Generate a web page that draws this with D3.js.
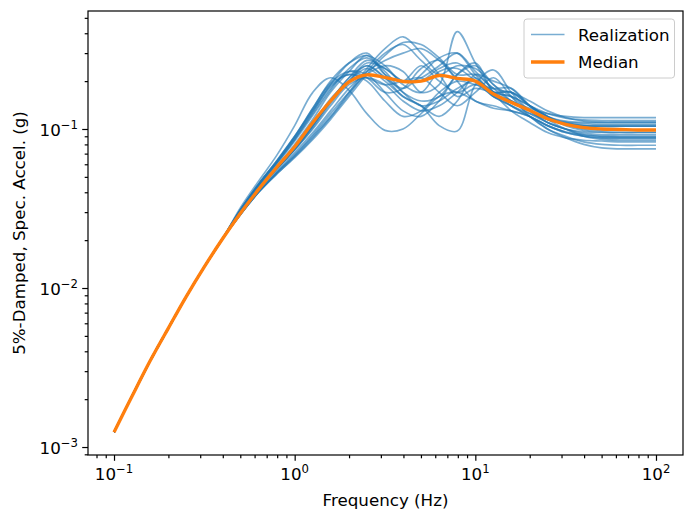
<!DOCTYPE html>
<html>
<head>
<meta charset="utf-8">
<script src="https://cdn.jsdelivr.net/npm/d3@7"></script>
<style>
body { margin: 0; background: #fff; }
text { font-family: "DejaVu Sans", sans-serif; }
</style>
</head>
<body>
<svg id="chart" width="695" height="523"></svg>
<script>
// frequencies (Hz), 10 per decade
var freq = [0.1, 0.126, 0.158, 0.2, 0.251, 0.316, 0.398, 0.501, 0.631, 0.794,
    1, 1.26, 1.58, 2, 2.51, 3.16, 3.98, 5.01, 6.31, 7.94,
    10, 12.6, 15.8, 20, 25.1, 31.6, 39.8, 50.1, 63.1, 79.4, 100]

// all realizations share the low frequency part (0.1 - 0.4 Hz)
var lowBand = [0.00124, 0.002094, 0.003459, 0.005598, 0.008831, 0.01358, 0.02032]

// realizations from 0.5 Hz on (g)
var realizations = [
    [.032, .047, .068, .105, .17, .21, .175, .125, .098, .10, .125, .16, .17, .15, .135, .13, .12, .105, .095, .09, .088, .087, .087, .087],
    [.031, .045, .063, .09, .135, .2, .26, .29, .25, .19, .17, .23, .24, .2, .16, .14, .125, .115, .11, .108, .107, .107, .107, .107],
    [.031, .044, .061, .086, .128, .19, .26, .3, .22, .17, .15, .16, .22, .25, .19, .16, .13, .115, .108, .105, .104, .104, .104, .104],
    [.030, .042, .056, .075, .105, .15, .21, .27, .24, .2, .21, .25, .3, .23, .18, .15, .135, .125, .12, .118, .118, .118, .118, .118],
    [.030, .042, .056, .074, .102, .145, .2, .25, .21, .16, .14, .12, .15, .22, .2, .18, .14, .12, .105, .098, .096, .095, .095, .095],
    [.029, .040, .053, .068, .09, .12, .17, .24, .32, .38, .3, .22, .16, .18, .17, .17, .14, .12, .11, .105, .104, .104, .104, .104],
    [.029, .040, .053, .069, .092, .125, .17, .22, .25, .23, .17, .19, .41, .26, .17, .13, .11, .095, .088, .085, .084, .083, .083, .083],
    [.029, .040, .052, .067, .088, .118, .165, .23, .3, .34, .27, .22, .25, .24, .19, .15, .13, .115, .108, .105, .105, .105, .105, .105],
    [.030, .042, .056, .075, .105, .15, .21, .25, .21, .18, .22, .28, .3, .22, .17, .16, .14, .12, .112, .11, .11, .11, .11, .11],
    [.031, .045, .063, .09, .135, .195, .23, .21, .17, .18, .24, .27, .2, .15, .14, .13, .12, .105, .095, .09, .088, .088, .088, .088],
    [.030, .042, .056, .074, .1, .14, .19, .21, .19, .15, .13, .14, .17, .21, .16, .15, .13, .11, .1, .094, .092, .092, .092, .092],
    [.030, .043, .058, .08, .115, .17, .23, .29, .22, .2, .25, .2, .17, .19, .16, .14, .12, .105, .096, .092, .09, .09, .09, .09],
    [.031, .044, .061, .086, .125, .18, .23, .22, .17, .13, .12, .15, .22, .26, .17, .15, .125, .11, .1, .096, .095, .095, .095, .095],
    [.030, .042, .057, .077, .108, .155, .2, .24, .2, .16, .14, .105, .097, .19, .235, .17, .13, .11, .1, .092, .09, .089, .089, .089],
    [.029, .041, .054, .071, .095, .13, .18, .23, .27, .3, .32, .27, .21, .2, .17, .16, .14, .125, .117, .114, .113, .113, .113, .113],
    [.031, .045, .062, .088, .13, .185, .22, .21, .19, .2, .21, .17, .14, .17, .21, .16, .12, .1, .09, .083, .08, .079, .079, .079],
    [.030, .042, .056, .075, .105, .148, .2, .26, .24, .2, .2, .24, .26, .21, .17, .14, .12, .1, .088, .08, .076, .075, .075, .075],
    [.029, .040, .052, .066, .086, .115, .16, .22, .29, .35, .34, .28, .22, .22, .18, .17, .15, .13, .118, .112, .11, .11, .11, .11],
    [.031, .044, .06, .084, .122, .175, .24, .28, .23, .17, .14, .15, .18, .2, .17, .17, .14, .12, .107, .1, .098, .098, .098, .098],
    [.031, .045, .062, .089, .132, .19, .22, .2, .15, .12, .13, .17, .2, .19, .18, .18, .14, .115, .1, .09, .086, .085, .085, .085]
]

var median = [0.00124, 0.002094, 0.003459, 0.005598, 0.008831, 0.01358, 0.02032, 0.0295, 0.0417, 0.0573,
    0.0773, 0.11, 0.15, 0.198, 0.219, 0.211, 0.199, 0.2, 0.217, 0.208,
    0.2, 0.166, 0.147, 0.131, 0.116, 0.107, 0.102, 0.1, 0.0993, 0.0986, 0.0986]

var xTicks = [0.1, 1, 10, 100]
var yTicks = [0.001, 0.01, 0.1]
var expo = { 0.1: "\u22121", 1: "0", 10: "1", 100: "2", 0.001: "\u22123", 0.01: "\u22122" }

var svg = d3.select("#chart")
var axLeft = 88, axRight = 683, axTop = 11, axBottom = 455
var fontSize = 16.7

var x = d3.scaleLog().domain([0.07178, 141.1]).range([axLeft, axRight])
var y = d3.scaleLog().domain([0.000891, 0.5521]).range([axBottom, axTop])

var line = d3.line()
    .x(d => x(d[0]))
    .y(d => y(d[1]))
    .curve(d3.curveCatmullRom.alpha(0.5))

realizations.forEach(function (r) {
    var vals = lowBand.concat(r)
    svg.append("path")
        .attr("d", line(freq.map((f, i) => [f, vals[i]])))
        .attr("fill", "none")
        .attr("stroke", "#1f77b4")
        .attr("stroke-opacity", 0.6)
        .attr("stroke-width", 1.67)
})

svg.append("path")
    .attr("d", line(freq.map((f, i) => [f, median[i]])))
    .attr("fill", "none")
    .attr("stroke", "#ff7f0e")
    .attr("stroke-width", 3.33)
    .attr("stroke-linejoin", "round")

// axes
var xAxis = d3.axisBottom(x).tickValues(xTicks).tickSize(5.8).tickFormat("")
var xMinor = d3.axisBottom(x).tickValues(x.ticks().filter(t => xTicks.indexOf(t) < 0)).tickSize(3.3).tickFormat("")
var yAxis = d3.axisLeft(y).tickValues(yTicks).tickSize(5.8).tickFormat("")
var yMinor = d3.axisLeft(y).tickValues(y.ticks().filter(t => yTicks.indexOf(t) < 0)).tickSize(3.3).tickFormat("")

function styleAxis(g) {
    g.select(".domain").remove()
    g.selectAll("line").attr("stroke", "#000").attr("stroke-width", 1.2)
}
svg.append("g").attr("transform", `translate(0,${axBottom})`).call(xAxis).call(styleAxis)
svg.append("g").attr("transform", `translate(0,${axBottom})`).call(xMinor).call(styleAxis)
svg.append("g").attr("transform", `translate(${axLeft},0)`).call(yAxis).call(styleAxis)
svg.append("g").attr("transform", `translate(${axLeft},0)`).call(yMinor).call(styleAxis)

svg.append("rect")
    .attr("x", axLeft).attr("y", axTop)
    .attr("width", axRight - axLeft).attr("height", axBottom - axTop)
    .attr("fill", "none").attr("stroke", "#000").attr("stroke-width", 1.2)

// tick labels 10^k
xTicks.forEach(function (t) {
    var tx = svg.append("text")
        .attr("x", x(t)).attr("y", 480)
        .attr("text-anchor", "middle")
        .attr("font-size", fontSize + "px")
    tx.append("tspan").text("10")
    tx.append("tspan").attr("dy", -7).attr("font-size", "11.7px").text(expo[t])
})
yTicks.forEach(function (t) {
    var ty = svg.append("text")
        .attr("x", 78).attr("y", y(t) + 7)
        .attr("text-anchor", "end")
        .attr("font-size", fontSize + "px")
    ty.append("tspan").text("10")
    ty.append("tspan").attr("dy", -7).attr("font-size", "11.7px").text(expo[t])
})

svg.append("text")
    .attr("x", (axLeft + axRight) / 2).attr("y", 506)
    .attr("text-anchor", "middle")
    .attr("font-size", fontSize + "px")
    .text("Frequency (Hz)")

svg.append("text")
    .attr("transform", `translate(25,${(axTop + axBottom) / 2}) rotate(-90)`)
    .attr("text-anchor", "middle")
    .attr("font-size", fontSize + "px")
    .text("5%-Damped, Spec. Accel. (g)")

// legend
var legend = svg.append("g")
legend.append("rect")
    .attr("x", 524).attr("y", 19)
    .attr("width", 150.5).attr("height", 59)
    .attr("rx", 3)
    .attr("fill", "#fff").attr("fill-opacity", 0.8)
    .attr("stroke", "#ccc").attr("stroke-width", 1)
var legendItems = [
    { label: "Realization", color: "#1f77b4", width: 1.67, opacity: 0.6 },
    { label: "Median", color: "#ff7f0e", width: 3.33, opacity: 1 }
]
legendItems.forEach(function (d, i) {
    var ly = 34.5 + i * 27.5
    legend.append("line")
        .attr("x1", 531).attr("x2", 564.5)
        .attr("y1", ly).attr("y2", ly)
        .attr("stroke", d.color).attr("stroke-width", d.width).attr("stroke-opacity", d.opacity)
    legend.append("text")
        .attr("x", 578).attr("y", ly + 6)
        .attr("font-size", fontSize + "px")
        .text(d.label)
})
</script>
</body>
</html>
